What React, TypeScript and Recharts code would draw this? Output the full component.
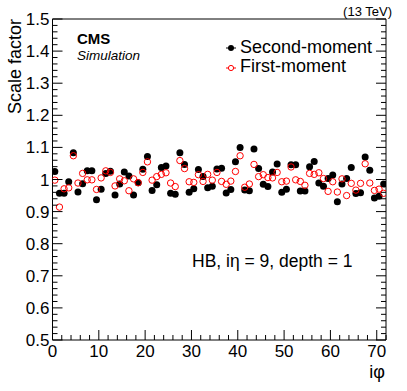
import React from 'react';
import { ScatterChart, Scatter, XAxis, YAxis, Legend } from 'recharts';

const iPhi = Array.from({ length: 72 }, (_, i) => i + 1);

const secondMoment = [
  1.025, 0.957, 0.957, 0.993, 1.083, 0.961, 0.987, 1.027, 1.027, 0.937,
  0.970, 1.019, 1.026, 0.952, 0.986, 1.023, 1.011, 0.952, 0.990, 1.032,
  1.072, 0.966, 0.984, 1.037, 1.042, 0.957, 0.954, 1.083, 1.047, 0.960,
  0.971, 1.031, 1.009, 0.974, 0.979, 1.033, 1.035, 0.958, 0.969, 1.055,
  1.100, 0.967, 0.965, 1.095, 1.034, 0.985, 0.978, 1.023, 1.048, 0.960,
  0.970, 1.046, 1.046, 0.964, 0.964, 1.040, 1.056, 0.989, 0.979, 1.003,
  1.014, 0.931, 0.986, 1.003, 1.037, 0.956, 0.959, 1.070, 1.029, 0.942,
  0.948, 0.986,
];

const firstMoment = [
  0.998, 0.914, 0.971, 0.974, 1.074, 0.989, 1.019, 0.999, 0.999, 0.969,
  1.005, 1.027, 1.022, 0.980, 1.002, 0.996, 0.965, 1.002, 0.990, 1.022,
  1.055, 0.998, 1.009, 1.016, 1.021, 0.989, 0.978, 1.059, 1.034, 0.993,
  0.991, 1.015, 0.994, 1.016, 0.998, 1.022, 0.994, 0.985, 0.995, 1.025,
  1.074, 0.976, 0.986, 1.047, 1.009, 1.015, 1.006, 1.005, 1.022, 0.993,
  0.995, 1.039, 0.999, 0.994, 0.982, 1.019, 1.016, 1.021, 1.003, 0.963,
  0.993, 0.961, 1.002, 0.950, 0.988, 0.967, 0.988, 1.049, 0.989, 0.966,
  0.970, 0.957,
];

const seriesNames = ['Second-moment', 'First-moment'];
const seriesColors = ['#000000', '#ff0000'];

const xMajorTicks = [0, 10, 20, 30, 40, 50, 60, 70];
const xTickLabels = ['0', '10', '20', '30', '40', '50', '60', '70'];
const yMajorTicks = [0.5, 0.6, 0.7, 0.8, 0.9, 1.0, 1.1, 1.2, 1.3, 1.4, 1.5];
const yTickLabels = ['0.5', '0.6', '0.7', '0.8', '0.9', '1', '1.1', '1.2', '1.3', '1.4', '1.5'];

const xTickValues = Array.from({ length: 37 }, (_, i) => i * 2);
const yTickValues = Array.from({ length: 51 }, (_, i) => Math.round((0.5 + i * 0.02) * 100) / 100);

const FONT = '"Liberation Sans", Arial, Helvetica, sans-serif';

const toPoints = (vals: number[]) => vals.map((v, i) => ({ x: iPhi[i] - 0.5, y: v }));
const secondPts = toPoints(secondMoment);
const firstPts = toPoints(firstMoment);

const MAJOR = 10;
const MINOR = 5;

const isXMajor = (v: number) => xMajorTicks.indexOf(v) >= 0;
const isYMajor = (v: number) => yMajorTicks.some((m) => Math.abs(m - v) < 1e-6);

const BottomTick = (props: any) => {
  const { x, y, payload } = props;
  const v = payload.value;
  const major = isXMajor(v);
  const idx = xMajorTicks.indexOf(v);
  return (
    <g>
      <line x1={x} y1={y} x2={x} y2={y - (major ? MAJOR : MINOR)} stroke="#000" strokeWidth={1} />
      {major && (
        <text x={x} y={y + 17} textAnchor="middle" fontFamily={FONT} fontSize={17} fill="#000">
          {xTickLabels[idx]}
        </text>
      )}
    </g>
  );
};

const TopTick = (props: any) => {
  const { x, y, payload } = props;
  const major = isXMajor(payload.value);
  return <line x1={x} y1={y} x2={x} y2={y + (major ? MAJOR : MINOR)} stroke="#000" strokeWidth={1} />;
};

const LeftTick = (props: any) => {
  const { x, y, payload } = props;
  const v = payload.value;
  const major = isYMajor(v);
  const idx = yMajorTicks.findIndex((m) => Math.abs(m - v) < 1e-6);
  return (
    <g>
      <line x1={x} y1={y} x2={x + (major ? MAJOR : MINOR)} y2={y} stroke="#000" strokeWidth={1} />
      {major && (
        <text x={x - 3} y={y + 6} textAnchor="end" fontFamily={FONT} fontSize={17} fill="#000">
          {yTickLabels[idx]}
        </text>
      )}
    </g>
  );
};

const RightTick = (props: any) => {
  const { x, y, payload } = props;
  const major = isYMajor(payload.value);
  return <line x1={x} y1={y} x2={x - (major ? MAJOR : MINOR)} y2={y} stroke="#000" strokeWidth={1} />;
};

const FilledDot = (props: any) => (
  <circle cx={props.cx} cy={props.cy} r={3.5} fill={seriesColors[0]} />
);

const OpenDot = (props: any) => (
  <circle cx={props.cx} cy={props.cy} r={3.2} fill="none" stroke={seriesColors[1]} strokeWidth={1} />
);

const LegendContent = () => (
  <div style={{ fontFamily: FONT, fontSize: 18, color: '#000', lineHeight: '19.5px' }}>
    {seriesNames.map((name, i) => (
      <div key={name} style={{ display: 'flex', alignItems: 'center', height: 19.5, whiteSpace: 'nowrap' }}>
        <svg width={12} height={12} style={{ marginRight: 3, marginTop: 2 }}>
          <line x1={1} y1={6} x2={11} y2={6} stroke={seriesColors[i]} strokeWidth={1} />
          {i === 0 ? (
            <circle cx={6} cy={6} r={3} fill={seriesColors[i]} />
          ) : (
            <circle cx={6} cy={6} r={2.6} fill="#fff" stroke={seriesColors[i]} strokeWidth={1} />
          )}
        </svg>
        <span>{name}</span>
      </div>
    ))}
  </div>
);

export default function App() {
  return (
    <div style={{ position: 'absolute', left: 0, top: 0, background: '#fff' }}>
      <ScatterChart width={407} height={391} margin={{ top: 18, right: 20, bottom: 50, left: 51.5 }}>
        <XAxis
          type="number"
          dataKey="x"
          domain={[0, 72]}
          allowDataOverflow
          ticks={xTickValues}
          interval={0}
          tickSize={0}
          tickMargin={0}
          tickLine={false}
          tick={<BottomTick />}
          height={1}
          axisLine={{ stroke: '#000', strokeWidth: 1 }}
        />
        <XAxis
          xAxisId="top"
          orientation="top"
          type="number"
          domain={[0, 72]}
          allowDataOverflow
          ticks={xTickValues}
          interval={0}
          tickSize={0}
          tickMargin={0}
          tickLine={false}
          tick={<TopTick />}
          height={1}
          axisLine={{ stroke: '#000', strokeWidth: 1 }}
        />
        <YAxis
          type="number"
          dataKey="y"
          domain={[0.5, 1.5]}
          allowDataOverflow
          ticks={yTickValues}
          interval={0}
          tickSize={0}
          tickMargin={0}
          tickLine={false}
          tick={<LeftTick />}
          width={1}
          axisLine={{ stroke: '#000', strokeWidth: 1 }}
        />
        <YAxis
          yAxisId="right"
          orientation="right"
          type="number"
          domain={[0.5, 1.5]}
          allowDataOverflow
          ticks={yTickValues}
          interval={0}
          tickSize={0}
          tickMargin={0}
          tickLine={false}
          tick={<RightTick />}
          width={1}
          axisLine={{ stroke: '#000', strokeWidth: 1 }}
        />
        <Scatter name={seriesNames[0]} data={secondPts} fill={seriesColors[0]} shape={FilledDot} isAnimationActive={false} />
        <Scatter name={seriesNames[1]} data={firstPts} fill={seriesColors[1]} shape={OpenDot} isAnimationActive={false} />
        <Legend
          layout="horizontal"
          verticalAlign="middle"
          align="center"
          content={<LegendContent />}
          wrapperStyle={{ left: 225, top: 37.5, width: 170 }}
        />
        <text x={21} y={19} transform="rotate(-90, 21, 19)" textAnchor="end" fontFamily={FONT} fontSize={18} fill="#000">
          Scale factor
        </text>
        <text x={385} y={378} textAnchor="end" fontFamily={FONT} fontSize={18} fill="#000">
          iφ
        </text>
        <text x={392} y={16} textAnchor="end" fontFamily={FONT} fontSize={13} fill="#000">
          (13 TeV)
        </text>
        <text x={77} y={44} fontFamily={FONT} fontSize={15} fontWeight="bold" fill="#000">
          CMS
        </text>
        <text x={77} y={60} fontFamily={FONT} fontSize={13.5} fontStyle="italic" fill="#000">
          Simulation
        </text>
        <text x={192} y={267} fontFamily={FONT} fontSize={17.5} fill="#000">
          HB, iη = 9, depth = 1
        </text>
      </ScatterChart>
    </div>
  );
}
